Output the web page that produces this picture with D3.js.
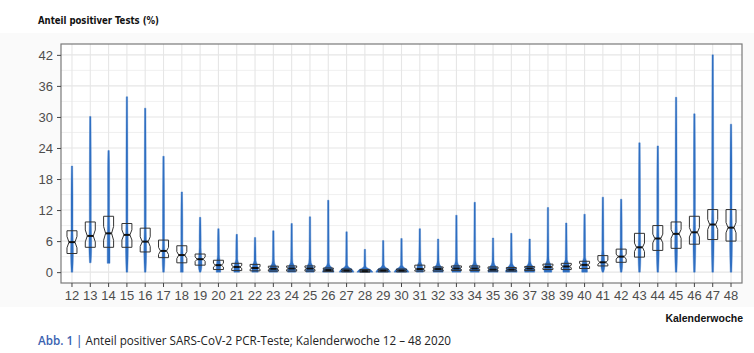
<!DOCTYPE html>
<html><head><meta charset="utf-8">
<script src="https://cdn.jsdelivr.net/npm/d3@7"></script>
<style>body{margin:0;background:#fff}svg{display:block}</style>
</head><body>
<svg id="c" width="754" height="353"></svg>
<script>
// ---- data ----
const weeks   = [12,13,14,15,16,17,18,19,20,21,22,23,24,25,26,27,28,29,30,31,32,33,34,35,36,37,38,39,40,41,42,43,44,45,46,47,48];
const minVal  = [0,1.8,1.7,0,0,0,0,0,0,0,0,0,0,0,0,0,0,0,0,0,0,0,0,0,0,0,0,0,0,0,0,0,0,0,0,0,0];
const q1      = [3.6,4.8,4.8,4.8,3.9,2.8,1.8,1.35,0.5,0.3,0.25,0.2,0.2,0.2,0.1,0.05,0,0.05,0.05,0.2,0.2,0.3,0.3,0.2,0.2,0.3,0.5,0.5,0.7,1.2,1.9,2.9,4.2,4.6,5.4,6.3,6.0];
const median  = [5.8,7.0,7.5,7.2,5.9,4.1,3.3,2.5,1.35,1.0,0.8,0.65,0.7,0.7,0.4,0.3,0.2,0.3,0.3,0.6,0.6,0.7,0.7,0.5,0.5,0.7,1.0,1.1,1.4,1.9,3.0,4.8,6.5,7.4,7.7,9.2,8.6];
const q3      = [8.0,9.7,10.8,9.4,8.5,6.2,5.1,3.5,2.3,1.7,1.5,1.15,1.2,1.2,0.8,0.6,0.5,0.6,0.6,1.35,1.0,1.2,1.2,1.0,0.9,1.1,1.55,1.7,2.1,3.2,4.45,7.5,9.0,9.7,10.8,12.1,12.1];
const maxVal  = [20.5,30.1,23.5,33.9,31.7,22.4,15.5,10.6,8.4,7.3,6.7,8.0,9.4,10.7,13.9,7.8,4.4,6.1,6.5,8.4,6.4,11.0,13.5,6.6,7.5,6.4,12.5,9.5,11.2,14.5,14.1,25.0,24.4,33.8,30.6,42.0,28.6];
const nLabs   = [40,45,50,55,60,60,60,60,60,60,60,60,60,60,60,60,60,60,60,60,60,60,60,60,60,60,60,60,60,70,70,80,80,90,90,90,93];
const yTicks  = [0,6,12,18,24,30,36,42];
const yMinor  = [3,9,15,21,27,33,39];
const yTitle  = "Anteil positiver Tests (%)";
const xTitle  = "Kalenderwoche";
const capLead = "Abb. 1 | ";
const capText = "Anteil positiver SARS-CoV-2 PCR-Teste; Kalenderwoche 12 – 48 2020";

const svg = d3.select("#c");
const P = {l:61, r:742, t:44, b:283};

svg.append("rect").attr("x",0).attr("y",33).attr("width",754).attr("height",274).attr("fill","#fafafa");
svg.append("rect").attr("x",P.l).attr("y",P.t).attr("width",P.r-P.l).attr("height",P.b-P.t).attr("fill","#fff");

const step = (P.r-P.l)/37.2;
const x = d3.scaleBand().domain(weeks).range([P.l+0.1*step, P.r-0.1*step]).padding(0);
const cx = w => x(w) + x.bandwidth()/2;
const y = d3.scaleLinear().domain([-2.1,44.1]).range([P.b,P.t]);

// grid
const g = svg.append("g");
g.selectAll(".mn").data(yMinor).join("line").attr("x1",P.l).attr("x2",P.r)
  .attr("y1",d=>y(d)).attr("y2",d=>y(d)).attr("stroke","#ececec").attr("stroke-width",0.8);
g.selectAll(".mj").data(yTicks).join("line").attr("x1",P.l).attr("x2",P.r)
  .attr("y1",d=>y(d)).attr("y2",d=>y(d)).attr("stroke","#e6e6e6").attr("stroke-width",1.1);
g.selectAll(".vx").data(weeks).join("line").attr("x1",d=>cx(d)).attr("x2",d=>cx(d))
  .attr("y1",P.t).attr("y2",P.b).attr("stroke","#e6e6e6").attr("stroke-width",1.1);

// violins
const area = d3.area().curve(d3.curveMonotoneY)
  .y(d=>y(d[0])).x0(d=>d[2]-d[1]).x1(d=>d[2]+d[1]);
weeks.forEach((w,i)=>{
  const iqr = Math.max(q3[i]-q1[i],0.05);
  const core = Math.max(1.4, Math.min(8, 4/iqr));
  const c = cx(w);
  const up = Math.min(maxVal[i]-0.2, q3[i]+1.5*iqr);
  const lowW = (q1[i]-minVal[i] < 0.6*iqr) ? core : Math.max(0.8, core*0.4);
  let pts = [
    [minVal[i], lowW, c],
    [q1[i], core, c],
    [median[i], core*0.9, c],
    [q3[i], core*0.7, c],
    [q3[i]+0.6*iqr, Math.max(1.0, core*0.33), c],
    [up, 1.0, c],
    [maxVal[i], 0.7, c]
  ];
  pts.sort((a,b)=>a[0]-b[0]);
  pts = pts.filter((p,k)=>k===0 || p[0]-pts[k-1][0] > 0.02);
  svg.append("path").attr("d", area(pts)).attr("fill","#2f6fc2").attr("stroke","#2f6fc2").attr("stroke-width",0.4);
});

// notched boxes
const bw = 5, nw = 0.6;
weeks.forEach((w,i)=>{
  const c = cx(w);
  const iqr = q3[i]-q1[i];
  const nh = 1.58*iqr/Math.sqrt(nLabs[i]);
  const nLo = median[i]-nh, nHi = median[i]+nh;
  const pts = [
    [c-bw, y(q1[i])],[c-bw, y(nLo)],[c-bw*nw, y(median[i])],[c-bw, y(nHi)],[c-bw, y(q3[i])],
    [c+bw, y(q3[i])],[c+bw, y(nHi)],[c+bw*nw, y(median[i])],[c+bw, y(nLo)],[c+bw, y(q1[i])]
  ];
  svg.append("path").attr("d", d3.line()(pts)+"Z").attr("fill","none")
    .attr("stroke","#333").attr("stroke-width",1);
  svg.append("line").attr("x1",c-bw*nw).attr("x2",c+bw*nw)
    .attr("y1",y(median[i])).attr("y2",y(median[i])).attr("stroke","#111").attr("stroke-width",2);
});

// border
svg.append("rect").attr("x",P.l).attr("y",P.t).attr("width",P.r-P.l).attr("height",P.b-P.t)
  .attr("fill","none").attr("stroke","#7a7a7a").attr("stroke-width",1.2);

// axes
const ya = svg.append("g").attr("transform",`translate(${P.l},0)`)
  .call(d3.axisLeft(y).tickValues(yTicks).tickSize(4).tickPadding(4));
const xa = svg.append("g").attr("transform",`translate(0,${P.b})`)
  .call(d3.axisBottom(x).tickSize(4).tickPadding(4));
[ya,xa].forEach(a=>{
  a.select(".domain").remove();
  a.selectAll("line").attr("stroke","#444").attr("stroke-width",1);
  a.selectAll("text").attr("fill","#4d4d4d").attr("font-family","Liberation Sans, Arial, sans-serif").attr("font-size",13);
});

// titles
svg.append("text").attr("x",38).attr("y",24).text(yTitle)
  .attr("font-family","DejaVu Sans, sans-serif").attr("font-weight","bold").attr("font-size",11)
  .attr("textLength",121).attr("lengthAdjust","spacingAndGlyphs").attr("fill","#111");
svg.append("text").attr("x",743).attr("y",322).attr("text-anchor","end").text(xTitle)
  .attr("font-family","Liberation Sans, Arial, sans-serif").attr("font-weight","bold").attr("font-size",10.5)
  .attr("fill","#111");
const cap = svg.append("text").attr("x",38).attr("y",345)
  .attr("font-family","Open Sans, sans-serif").attr("font-size",12).attr("fill","#222")
  .attr("textLength",413).attr("lengthAdjust","spacingAndGlyphs");
cap.append("tspan").text(capLead).attr("fill","#3a62b0").attr("font-weight","600");
cap.append("tspan").text(capText);
</script>
</body></html>
